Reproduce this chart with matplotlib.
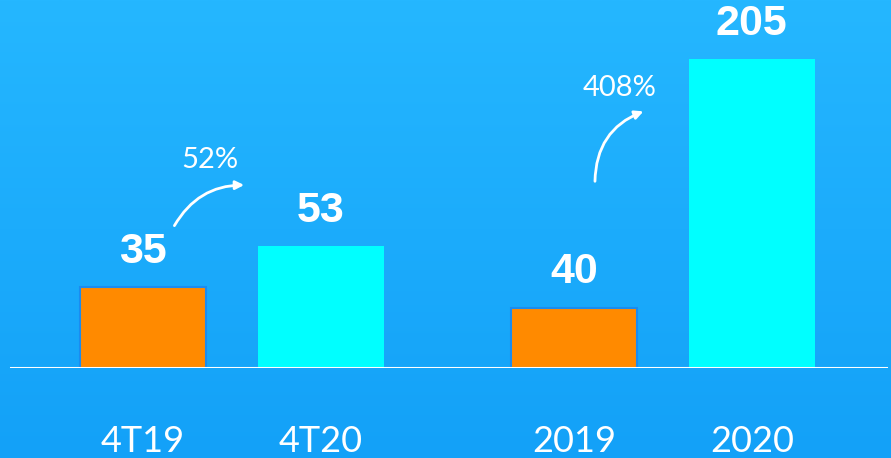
import matplotlib
matplotlib.use('Agg')
import matplotlib.pyplot as plt
import numpy as np

# colours
BG_TOP = '#25b7ff'
BG_BOTTOM = '#13a1f8'
ORANGE = '#ff8a00'
ORANGE_EDGE = '#1a8cf0'
CYAN = '#00ffff'
WHITE = '#ffffff'

# data: quarter comparison and full-year comparison
quarter_labels = ['4T19', '4T20']
quarter_values = [35, 53]
year_labels = ['2019', '2020']
year_values = [40, 205]
growth_labels = ['52%', '408%']

quarter_x = [0.0, 1.0]
year_x = [2.42, 3.42]
bar_w = 0.71

fig = plt.figure(figsize=(8.91, 4.58), dpi=100)

# gradient background
bg = fig.add_axes([0, 0, 1, 1], zorder=0)
grad = np.linspace(0, 1, 256).reshape(-1, 1)
cmap = matplotlib.colors.LinearSegmentedColormap.from_list('bg', [BG_TOP, BG_BOTTOM])
bg.imshow(grad, aspect='auto', cmap=cmap, extent=[0, 1, 0, 1], origin='upper')
bg.axis('off')

# each group gets its own scale, sharing the same baseline
base = (458 - 368) / 458
ax1 = fig.add_axes([0, base, 1, 1 - base], zorder=1)
ax2 = fig.add_axes([0, base, 1, 1 - base], zorder=2, sharex=ax1)
for ax in (ax1, ax2):
    ax.patch.set_alpha(0)
    for s in ax.spines.values():
        s.set_visible(False)
    ax.set_yticks([])
ax1.set_xlim(-0.803, 4.202)
ax1.set_ylim(0, 159.9)
ax2.set_ylim(0, 244.1)

ax1.bar(quarter_x, quarter_values, width=bar_w, color=[ORANGE, CYAN],
        edgecolor=[ORANGE_EDGE, CYAN], linewidth=[1.5, 0], zorder=3)
ax2.bar(year_x, year_values, width=bar_w, color=[ORANGE, CYAN],
        edgecolor=[ORANGE_EDGE, CYAN], linewidth=[1.5, 0], zorder=3)

# value labels
for ax, xs, vals in ((ax1, quarter_x, quarter_values), (ax2, year_x, year_values)):
    for x, v in zip(xs, vals):
        ax.annotate(str(v), xy=(x, v), xytext=(0, 11), textcoords='offset points',
                    ha='center', va='bottom', fontsize=31, fontweight='bold',
                    color=WHITE, family='Liberation Sans')

# baseline
ax2.axhline(0, xmin=0.012, xmax=0.994, color=WHITE, lw=2.2, zorder=4)

# category labels
ax1.tick_params(axis='x', length=0, pad=41, colors=WHITE)
ax2.tick_params(axis='x', length=0, pad=41, colors=WHITE)
ax1.set_xticks(quarter_x + year_x)
ax1.set_xticklabels(quarter_labels + year_labels, fontsize=26,
                    family='Lato', fontweight='normal')
ax2.tick_params(axis='x', labelbottom=False)

# growth arrows and percentages
ax1.annotate('', xy=(0.584, 79.5), xytext=(0.169, 60.8),
             arrowprops=dict(arrowstyle='-|>,head_length=0.5,head_width=0.25',
                             color=WHITE, lw=2, connectionstyle='arc3,rad=-0.3'))
ax1.text(0.376, 90.4, growth_labels[0], ha='center', va='center',
         fontsize=21, color=WHITE, family='Lato', fontweight='normal')

ax2.annotate('', xy=(2.826, 170.9), xytext=(2.539, 122.0),
             arrowprops=dict(arrowstyle='-|>,head_length=0.5,head_width=0.25',
                             color=WHITE, lw=2, connectionstyle='arc3,rad=-0.35'))
ax2.text(2.68, 186.0, growth_labels[1], ha='center', va='center',
         fontsize=21, color=WHITE, family='Lato', fontweight='normal')

fig.savefig('out.png', dpi=100)
